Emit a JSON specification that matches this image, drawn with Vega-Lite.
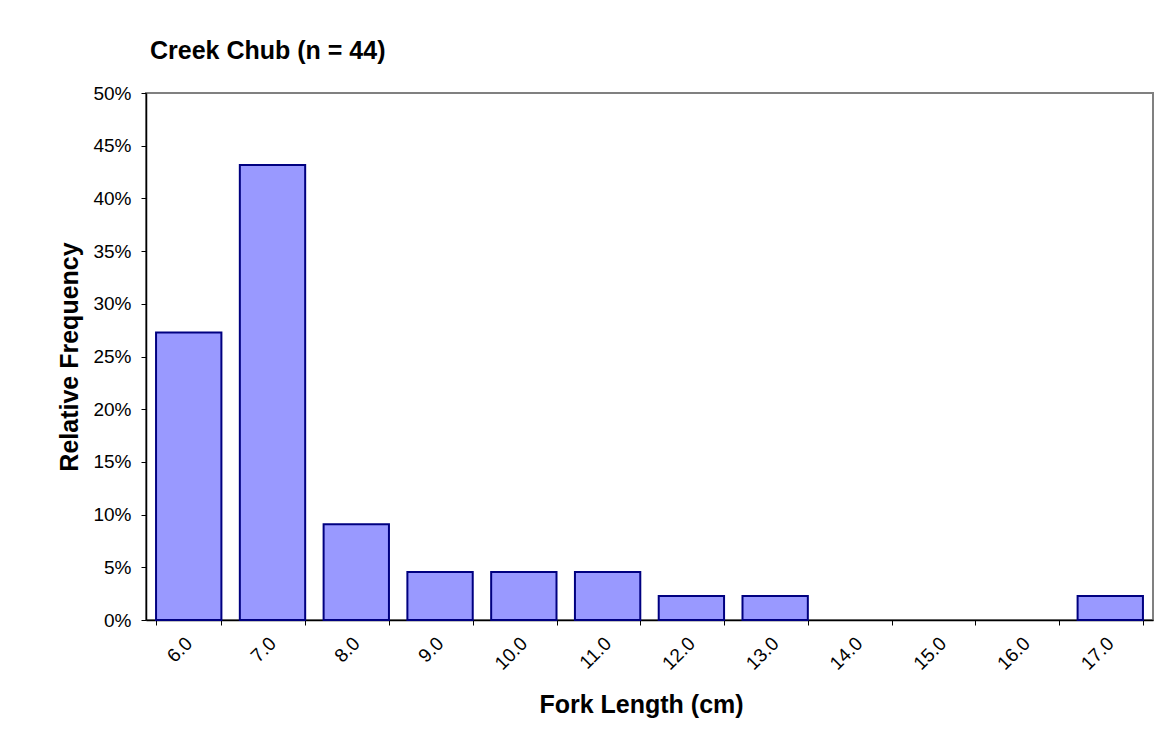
{
  "$schema": "https://vega.github.io/schema/vega-lite/v6.json",
  "width": 1007,
  "height": 527,
  "autosize": "none",
  "padding": {"left": 146, "top": 93, "right": 20, "bottom": 132},
  "background": "white",
  "title": {
    "text": "Creek Chub (n = 44)",
    "anchor": "start",
    "frame": "group",
    "font": "Liberation Sans",
    "fontSize": 25,
    "fontWeight": "bold",
    "color": "black",
    "baseline": "alphabetic",
    "dx": 4,
    "offset": 0
  },
  "data": {
    "values": [
      {"len": "6.0", "freq": 0.2727},
      {"len": "7.0", "freq": 0.4318},
      {"len": "8.0", "freq": 0.0909},
      {"len": "9.0", "freq": 0.0455},
      {"len": "10.0", "freq": 0.0455},
      {"len": "11.0", "freq": 0.0455},
      {"len": "12.0", "freq": 0.0227},
      {"len": "13.0", "freq": 0.0227},
      {"len": "14.0", "freq": 0},
      {"len": "15.0", "freq": 0},
      {"len": "16.0", "freq": 0},
      {"len": "17.0", "freq": 0.0227}
    ]
  },
  "mark": {"type": "bar", "fill": "#9999FF", "stroke": "#000080", "strokeWidth": 2},
  "encoding": {
    "strokeOpacity": {"condition": {"test": "datum.freq > 0", "value": 1}, "value": 0},
    "x": {
      "field": "len",
      "type": "ordinal",
      "sort": null,
      "scale": {"paddingInner": 0.22, "paddingOuter": 0.12},
      "axis": {
        "title": "Fork Length (cm)",
        "titleFont": "Liberation Sans",
        "titleFontSize": 25,
        "titleFontWeight": "bold",
        "titleColor": "black",
        "titlePadding": 19,
        "titleX": 495,
        "labelAngle": -45,
        "labelAlign": "right",
        "labelBaseline": "middle",
        "labelFont": "Liberation Sans",
        "labelFontSize": 19,
        "labelColor": "black",
        "labelPadding": 15,
        "tickBand": "extent",
        "tickSize": 5,
        "tickColor": "black",
        "domainColor": "black",
        "domainWidth": 1.5
      }
    },
    "y": {
      "field": "freq",
      "type": "quantitative",
      "scale": {"domain": [0, 0.5]},
      "axis": {
        "title": "Relative Frequency",
        "titleFont": "Liberation Sans",
        "titleFontSize": 25,
        "titleFontWeight": "bold",
        "titleColor": "black",
        "titlePadding": 10,
        "format": ".0%",
        "values": [0, 0.05, 0.1, 0.15, 0.2, 0.25, 0.3, 0.35, 0.4, 0.45, 0.5],
        "labelFont": "Liberation Sans",
        "labelFontSize": 19,
        "labelColor": "black",
        "labelPadding": 10,
        "tickSize": 5,
        "tickColor": "black",
        "domainColor": "black",
        "domainWidth": 1.5,
        "grid": false
      }
    }
  },
  "config": {
    "view": {"stroke": "#808080", "strokeWidth": 2}
  }
}
